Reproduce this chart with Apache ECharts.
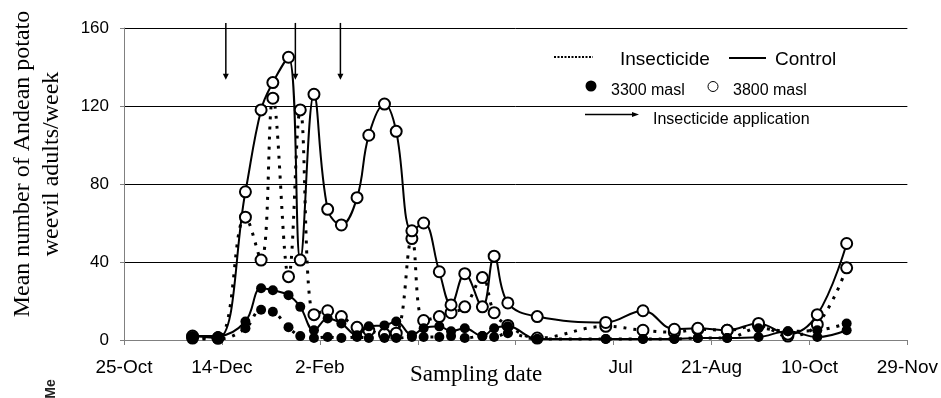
<!DOCTYPE html>
<html>
<head>
<meta charset="utf-8">
<script src="https://cdn.jsdelivr.net/npm/echarts@6/dist/echarts.min.js"></script>
<style>
  html, body { margin: 0; padding: 0; background: #fff; }
  #chart { width: 941px; height: 398px; }
</style>
</head>
<body>
<div id="chart"></div>
<script>
// sampling days counted from 25-Oct
const days = [35, 48, 62, 70, 76, 84, 90, 97, 104, 111, 119, 125, 133, 139, 147, 153,
  161, 167, 174, 183, 189, 196, 211, 246, 265, 281, 293, 308, 324, 339, 354, 369];

const control3800 = [2, 1, 76, 118, 132, 145, 41, 126, 67, 59, 73, 105, 121, 107, 56, 60,
  35, 18, 34, 17, 43, 19, 12, 9, 15, 5.5, 6, 5, 8.5, 3, 13, 49.5];
const insect3800 = [1, 1, 63, 41, 124, 32.5, 118, 13, 15, 12, 6.5, 5, 3, 3.5, 52, 10,
  12, 14, 17, 32, 14, 7.5, 1, 7, 5, 4, 5.5, 5, 7.5, 2, 8, 37];
const control3300 = [2, 2, 9.5, 26.5, 25.5, 23, 17, 5, 11, 8.5, 2.5, 7, 7.5, 9.5, 2.5, 6,
  7, 4.5, 6, 2, 6, 7, 0.5, 0.5, 0.5, 0.5, 1, 1, 1.5, 4.5, 1.5, 5];
const insect3300 = [0.5, 0.5, 6, 15.5, 14.5, 6.5, 2, 1, 1.5, 1, 1.5, 1, 1, 1, 1.5, 1.5,
  1.5, 2, 1, 2, 1.5, 3.5, 0.5, 0.5, 0.5, 0.5, 1, 1, 6, 4.5, 5, 8.5];

// insecticide application dates (days from 25-Oct), arrow from top to bottom value
const sprayDays = [52, 87.5, 110.5];
const arrowTop = 162.6;
const arrowBottom = 133.5;

const xTickLabels = ['25-Oct', '14-Dec', '2-Feb', '', '', 'Jul', '21-Aug', '10-Oct', '29-Nov'];
const yTicks = [0, 40, 80, 120, 160];

const SANS = '"Liberation Sans", Arial, sans-serif';
const SERIF = '"Liberation Serif", "Times New Roman", serif';

const pairs = vals => days.map((d, i) => [d, vals[i]]);

const chart = echarts.init(document.getElementById('chart'));

function makeLine(name, vals, dotted, filled) {
  return {
    name: name,
    type: 'line',
    data: pairs(vals),
    smooth: 0.4,
    symbol: filled ? 'circle' : 'emptyCircle',
    symbolSize: filled ? 10 : 11,
    itemStyle: { color: '#000', borderColor: '#000', borderWidth: filled ? 0 : 1 },
    lineStyle: dotted
      ? { color: '#000', width: 3, type: [3, 7] }
      : { color: '#000', width: 2, type: 'solid' },
    z: filled ? 4 : 3,
    silent: true
  };
}

const option = {
  animation: false,
  backgroundColor: '#fff',
  grid: { left: 124, right: 32, top: 28, bottom: 58, containLabel: false },
  xAxis: {
    type: 'value',
    min: 0,
    max: 400,
    interval: 50,
    axisLine: { show: true, lineStyle: { color: '#808080', width: 1 } },
    axisTick: { show: true, length: 5, lineStyle: { color: '#808080' } },
    splitLine: { show: false },
    axisLabel: {
      margin: 18,
      color: '#000',
      fontSize: 19,
      fontFamily: SANS,
      formatter: v => {
        const t = xTickLabels[Math.round(v / 50)] || '';
        return t === 'Jul' ? '{j|Jul}' : t;
      },
      rich: { j: { padding: [0, 0, 0, 14], fontSize: 19, fontFamily: SANS, color: '#000' } }
    }
  },
  yAxis: {
    type: 'value',
    min: 0,
    max: 160,
    interval: 40,
    axisLine: { show: true, lineStyle: { color: '#808080', width: 1 } },
    axisTick: { show: true, length: 4, lineStyle: { color: '#808080' } },
    splitLine: { show: true, lineStyle: { color: '#000', width: 1 } },
    axisLabel: {
      margin: 15,
      color: '#000',
      fontSize: 17,
      fontFamily: SANS,
      formatter: v => (yTicks.indexOf(v) >= 0 ? String(v) : '')
    }
  },
  series: [
    makeLine('Insecticide 3800 masl', insect3800, true, false),
    makeLine('Control 3800 masl', control3800, false, false),
    makeLine('Insecticide 3300 masl', insect3300, true, true),
    makeLine('Control 3300 masl', control3300, false, true),
    {
      name: 'Insecticide application',
      type: 'custom',
      clip: false,
      silent: true,
      z: 5,
      data: sprayDays.map(d => [d, arrowTop, arrowBottom]),
      renderItem: (params, api) => {
        const top = api.coord([api.value(0), api.value(1)]);
        const bot = api.coord([api.value(0), api.value(2)]);
        return {
          type: 'group',
          children: [
            { type: 'line', shape: { x1: top[0], y1: top[1], x2: bot[0], y2: bot[1] - 5 },
              style: { stroke: '#000', lineWidth: 1.5 } },
            { type: 'polygon',
              shape: { points: [[bot[0] - 3, bot[1] - 6], [bot[0] + 3, bot[1] - 6], [bot[0], bot[1]]] },
              style: { fill: '#000' } }
          ]
        };
      }
    }
  ],
  graphic: [
    // y axis title
    {
      type: 'text', x: 37, y: 164, rotation: Math.PI / 2,
      style: {
        text: 'Mean number of Andean potato\nweevil adults/week',
        font: '24px ' + SERIF, fill: '#000', align: 'center', verticalAlign: 'middle', lineHeight: 29
      }
    },
    {
      type: 'text', x: 51, y: 389, rotation: Math.PI / 2,
      style: { text: 'Me', font: 'bold 14px ' + SANS, fill: '#222', align: 'center', verticalAlign: 'middle' }
    },
    // x axis title
    {
      type: 'text', x: 410, y: 375,
      style: { text: 'Sampling date', font: '23px ' + SERIF, fill: '#000', verticalAlign: 'middle' }
    },
    // legend
    { type: 'line', shape: { x1: 554, y1: 57, x2: 593, y2: 57 },
      style: { stroke: '#000', lineWidth: 2, lineDash: [2, 1.5] } },
    { type: 'text', x: 620, y: 60,
      style: { text: 'Insecticide', font: '19px ' + SANS, fill: '#000', verticalAlign: 'middle' } },
    { type: 'line', shape: { x1: 729, y1: 58, x2: 766, y2: 58 },
      style: { stroke: '#000', lineWidth: 2 } },
    { type: 'text', x: 775, y: 60,
      style: { text: 'Control', font: '19px ' + SANS, fill: '#000', verticalAlign: 'middle' } },
    { type: 'circle', shape: { cx: 591, cy: 86, r: 5.5 }, style: { fill: '#000' } },
    { type: 'text', x: 611, y: 91,
      style: { text: '3300 masl', font: '16px ' + SANS, fill: '#000', verticalAlign: 'middle' } },
    { type: 'circle', shape: { cx: 713, cy: 86.5, r: 5 }, style: { fill: '#fff', stroke: '#000', lineWidth: 1 } },
    { type: 'text', x: 733, y: 91,
      style: { text: '3800 masl', font: '16px ' + SANS, fill: '#000', verticalAlign: 'middle' } },
    { type: 'line', shape: { x1: 585, y1: 114.5, x2: 634, y2: 114.5 },
      style: { stroke: '#000', lineWidth: 1.5 } },
    { type: 'polygon', shape: { points: [[632, 112], [639, 114.5], [632, 117]] }, style: { fill: '#000' } },
    { type: 'text', x: 653, y: 120,
      style: { text: 'Insecticide application', font: '16px ' + SANS, fill: '#000', verticalAlign: 'middle' } }
  ]
};

chart.setOption(option);
</script>
</body>
</html>
